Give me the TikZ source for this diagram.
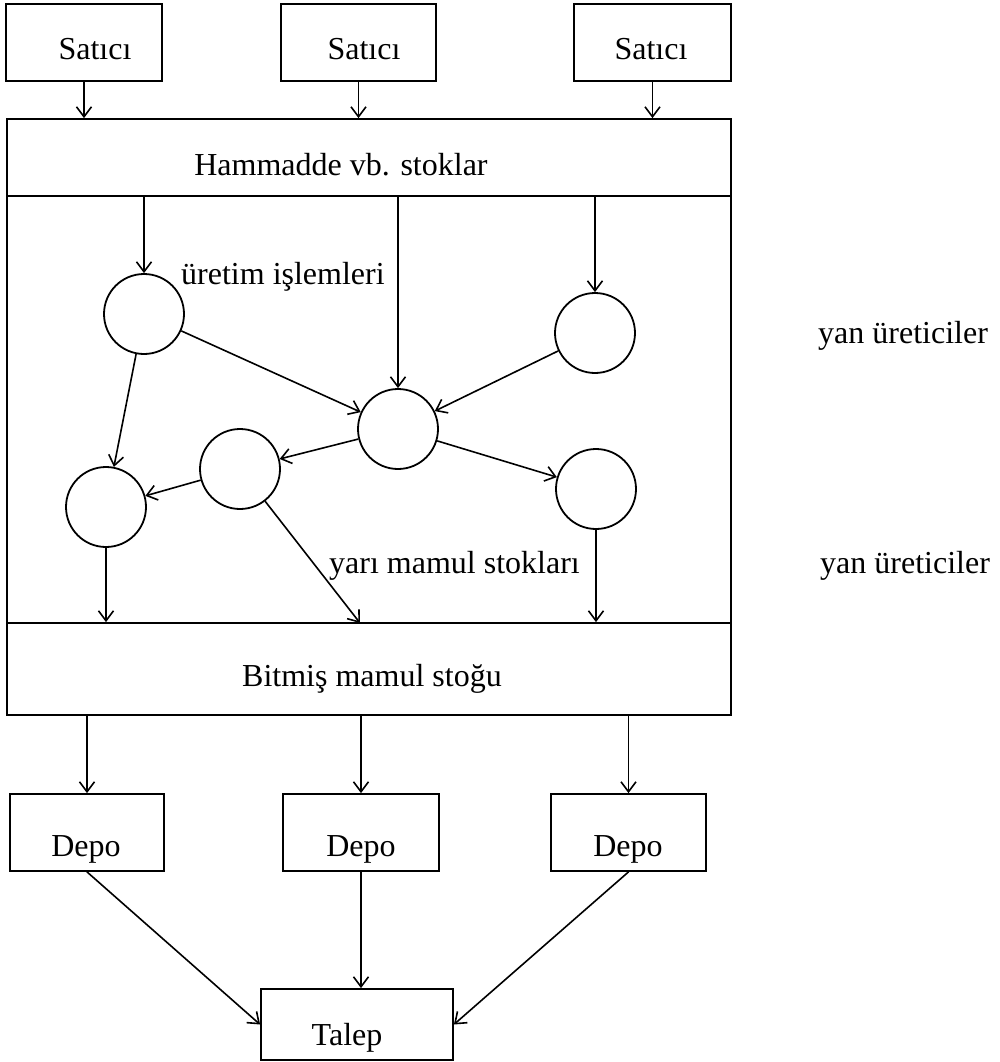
\documentclass[tikz,border=0pt]{standalone}
\usepackage{fontspec}
\setmainfont{Liberation Serif}
\usetikzlibrary{arrows.meta}
\begin{document}
\begin{tikzpicture}[x=1pt,y=-1pt,
  lbl/.style={font=\fontsize{32}{38}\selectfont, inner sep=0pt, anchor=base},
  lblw/.style={lbl, anchor=base west},
  frame/.style={draw, line width=1.8pt, rectangle, inner sep=0pt},
  proc/.style={draw, line width=1.8pt, circle, inner sep=0pt, minimum size=80pt},
  flow/.style={line width=1.6pt, -{Straight Barb[length=10pt,width=15pt,line width=1.6pt]}},
]
\useasboundingbox (0,0) rectangle (999,1062);

% suppliers
\node[frame, minimum width=156pt, minimum height=77pt] (s1) at (84,42.5) {};
\node[frame, minimum width=155pt, minimum height=77pt] (s2) at (358.5,42.5) {};
\node[frame, minimum width=157pt, minimum height=77pt] (s3) at (652.5,42.5) {};
\node[lbl] (t1) at (95,60) {Satıcı};
\node[lbl] (t2) at (364,60) {Satıcı};
\node[lbl] (t3) at (651,60) {Satıcı};

% plant: raw stock, process area, finished stock
\node[frame, minimum width=724pt, minimum height=77pt] (ham) at (369,157.5) {};
\node[frame, minimum width=724pt, minimum height=427pt] (mid) at (369,409.5) {};
\node[frame, minimum width=724pt, minimum height=92pt] (bit) at (369,669) {};
\node[lbl] (tham) at (341,175) {Hammadde vb. stoklar};
\node[lbl] (tbit) at (372,686) {Bitmiş mamul stoğu};

% production operations
\node[proc] (C1) at (144,314) {};
\node[proc] (C3) at (595,333) {};
\node[proc] (C4) at (398,429) {};
\node[proc] (C5) at (240,469) {};
\node[proc] (C2) at (106,507) {};
\node[proc] (C6) at (596,489) {};
\node[lblw] (tops) at (181,284) {üretim işlemleri};
\node[lblw] (tsemi) at (329,573) {yarı mamul stokları};
\node[lblw] (ty1) at (818,343) {yan üreticiler};
\node[lblw] (ty2) at (820,573) {yan üreticiler};

% warehouses and demand
\node[frame, minimum width=154pt, minimum height=77pt] (d1) at (87,832.5) {};
\node[frame, minimum width=156pt, minimum height=77pt] (d2) at (361,832.5) {};
\node[frame, minimum width=155pt, minimum height=77pt] (d3) at (628.5,832.5) {};
\node[lbl] (td1) at (86,856) {Depo};
\node[lbl] (td2) at (361,856) {Depo};
\node[lbl] (td3) at (628,856) {Depo};
\node[frame, minimum width=192pt, minimum height=71pt] (tal) at (357,1024.5) {};
\node[lbl] (ttal) at (347,1045) {Talep};

\coordinate (c5out) at (360,623);

% flows
\draw[flow] (s1.south) -- (s1.south |- ham.north);
\draw[flow] (s2.south) -- (s2.south |- ham.north);
\draw[flow] (s3.south) -- (s3.south |- ham.north);

\draw[flow] (C1 |- ham.south) -- (C1);
\draw[flow] (C4 |- ham.south) -- (C4);
\draw[flow] (C3 |- ham.south) -- (C3);

\draw[flow] (C1) -- (C4);
\draw[flow] (C1) -- (C2);
\draw[flow] (C3) -- (C4);
\draw[flow] (C4) -- (C5);
\draw[flow] (C4) -- (C6);
\draw[flow] (C5) -- (C2);

\draw[flow] (C2) -- (C2 |- bit.north);
\draw[flow] (C5) -- (c5out);
\draw[flow] (C6) -- (C6 |- bit.north);

\draw[flow] (d1 |- bit.south) -- (d1.north);
\draw[flow] (d2 |- bit.south) -- (d2.north);
\draw[flow] (d3 |- bit.south) -- (d3.north);

\draw[flow] (d1.south) -- (tal.west);
\draw[flow] (d2.south) -- (d2.south |- tal.north);
\draw[flow] (d3.south) -- (tal.east);
\end{tikzpicture}
\end{document}
